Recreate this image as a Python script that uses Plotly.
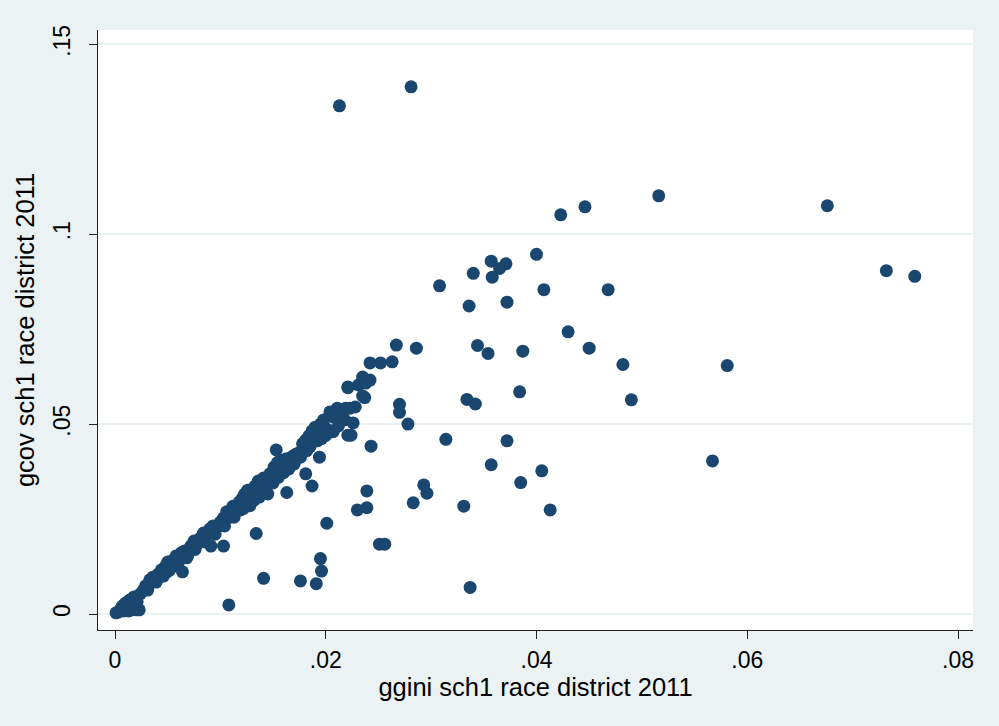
import plotly.graph_objects as go

# ggini sch1 race district 2011 (x) and gcov sch1 race district 2011 (y)
ggini = [
    0.0001, 0.0003, 0.0005, 0.0008, 0.0010, 0.0013, 0.0016, 0.0020, 0.0023,
    0.0007, 0.0010, 0.0014, 0.0018, 0.0021, 0.0024, 0.0027, 0.0029, 0.0031,
    0.0033, 0.0036, 0.0039, 0.0041, 0.0044, 0.0046, 0.0048, 0.0050, 0.0052,
    0.0055, 0.0058, 0.0060, 0.0063, 0.0064, 0.0066, 0.0069, 0.0072, 0.0075,
    0.0078, 0.0081, 0.0084, 0.0087, 0.0090, 0.0093, 0.0097, 0.0100, 0.0103,
    0.0106, 0.0109, 0.0112, 0.0115, 0.0118, 0.0121, 0.0123, 0.0126, 0.0130,
    0.0133, 0.0136, 0.0139, 0.0141, 0.0144, 0.0147, 0.0151, 0.0154, 0.0157,
    0.0159, 0.0162, 0.0166, 0.0169, 0.0172, 0.0176, 0.0178, 0.0181, 0.0184,
    0.0187, 0.0190, 0.0193, 0.0195, 0.0198, 0.0201, 0.0204, 0.0207, 0.0211,
    0.0214, 0.0216, 0.0219, 0.0223, 0.0221, 0.0231, 0.0235, 0.0238, 0.0242,
    0.0235, 0.0242, 0.0252, 0.0263, 0.0267, 0.0286,
    0.0119, 0.0145, 0.0176, 0.0192, 0.0207, 0.0218, 0.0226, 0.0228,
    0.0040, 0.0050, 0.0058, 0.0068, 0.0076, 0.0085, 0.0095, 0.0104, 0.0113,
    0.0122, 0.0132, 0.0140, 0.0150, 0.0160, 0.0170, 0.0182, 0.0200, 0.0212,
    0.0128, 0.0137, 0.0155, 0.0165, 0.0185, 0.0196,
    0.0091, 0.0103, 0.0108, 0.0134, 0.0141, 0.0153, 0.0163, 0.0176, 0.0181,
    0.0187, 0.0194, 0.0191, 0.0195, 0.0196, 0.0201, 0.0197, 0.0207, 0.0221,
    0.0224, 0.0221, 0.0230, 0.0239, 0.0239, 0.0243, 0.0237, 0.0251, 0.0256,
    0.0270, 0.0270, 0.0278, 0.0283, 0.0293, 0.0296, 0.0314, 0.0308, 0.0331,
    0.0334, 0.0342, 0.0336, 0.0337, 0.0340, 0.0344, 0.0354, 0.0357, 0.0357,
    0.0358, 0.0365, 0.0371, 0.0372, 0.0372, 0.0384, 0.0385, 0.0387, 0.0400,
    0.0405, 0.0407, 0.0413, 0.0423, 0.0430, 0.0446, 0.0450, 0.0468, 0.0482,
    0.0490, 0.0516, 0.0567, 0.0581, 0.0676, 0.0732, 0.0759, 0.0213, 0.0281,
]
gcov = [
    0.0003, 0.0005, 0.0011, 0.0008, 0.0013, 0.0008, 0.0011, 0.0011, 0.0011,
    0.0021, 0.0029, 0.0037, 0.0045, 0.0032, 0.0053, 0.0063, 0.0074, 0.0063,
    0.0090, 0.0097, 0.0084, 0.0105, 0.0116, 0.0100, 0.0126, 0.0137, 0.0116,
    0.0142, 0.0153, 0.0134, 0.0161, 0.0111, 0.0166, 0.0153, 0.0179, 0.0192,
    0.0184, 0.0200, 0.0213, 0.0208, 0.0224, 0.0232, 0.0229, 0.0242, 0.0253,
    0.0269, 0.0255, 0.0284, 0.0271, 0.0295, 0.0305, 0.0316, 0.0326, 0.0311,
    0.0337, 0.0350, 0.0329, 0.0358, 0.0345, 0.0369, 0.0387, 0.0398, 0.0405,
    0.0403, 0.0408, 0.0411, 0.0416, 0.0421, 0.0427, 0.0448, 0.0458, 0.0469,
    0.0482, 0.0492, 0.0466, 0.0500, 0.0511, 0.0487, 0.0532, 0.0519, 0.0542,
    0.0511, 0.0532, 0.0542, 0.0542, 0.0598, 0.0603, 0.0624, 0.0608, 0.0616,
    0.0574, 0.0661, 0.0661, 0.0664, 0.0708, 0.0700,
    0.0274, 0.0316, 0.0413, 0.0456, 0.0482, 0.0511, 0.0503, 0.0545,
    0.0090, 0.0112, 0.0128, 0.0148, 0.0170, 0.0190, 0.0210, 0.0232, 0.0255,
    0.0278, 0.0300, 0.0320, 0.0345, 0.0372, 0.0395, 0.0430, 0.0470, 0.0495,
    0.0285, 0.0308, 0.0360, 0.0382, 0.0440, 0.0462,
    0.0179, 0.0179, 0.0024, 0.0212, 0.0094, 0.0432, 0.0320, 0.0087, 0.0369,
    0.0337, 0.0413, 0.0080, 0.0146, 0.0113, 0.0239, 0.0467, 0.0480, 0.0471,
    0.0471, 0.0596, 0.0274, 0.0280, 0.0324, 0.0442, 0.0570, 0.0184, 0.0184,
    0.0552, 0.0531, 0.0500, 0.0293, 0.0340, 0.0318, 0.0460, 0.0864, 0.0284,
    0.0565, 0.0553, 0.0811, 0.0070, 0.0897, 0.0707, 0.0686, 0.0393, 0.0929,
    0.0887, 0.0910, 0.0922, 0.0821, 0.0456, 0.0585, 0.0346, 0.0692, 0.0947,
    0.0377, 0.0854, 0.0274, 0.1051, 0.0743, 0.1072, 0.0700, 0.0854, 0.0657,
    0.0564, 0.1101, 0.0403, 0.0654, 0.1075, 0.0904, 0.0889, 0.1338, 0.1388,
]

x_ticks = [0, 0.02, 0.04, 0.06, 0.08]
x_labels = ["0", ".02", ".04", ".06", ".08"]
y_ticks = [0, 0.05, 0.1, 0.15]
y_labels = ["0", ".05", ".1", ".15"]

BG = "#EAF2F3"
NAVY = "#1A476F"
FONT = "Liberation Sans, Arial, sans-serif"
TICK_SIZE = 23
TITLE_SIZE = 25.5

fig = go.Figure(go.Scatter(
    x=ggini, y=gcov, mode="markers",
    marker=dict(color=NAVY, size=13, line=dict(width=0)),
    showlegend=False,
))

fig.update_layout(
    width=999, height=726,
    paper_bgcolor=BG, plot_bgcolor="white",
    margin=dict(l=98, r=26, t=30, b=96),
    font=dict(family=FONT, size=TICK_SIZE, color="black"),
)
fig.update_xaxes(
    range=[-0.001613, 0.081423], tickvals=x_ticks, ticktext=x_labels,
    showgrid=False, zeroline=False,
    showline=True, linecolor="#222222", linewidth=1,
    ticks="outside", ticklen=8, tickcolor="#222222",
    tickfont=dict(size=TICK_SIZE), ticklabelstandoff=1,
    title=dict(text="ggini sch1 race district 2011", standoff=2,
               font=dict(size=TITLE_SIZE)),
)
fig.update_yaxes(
    range=[-0.00421, 0.15377], tickvals=y_ticks, ticktext=y_labels,
    showgrid=True, gridcolor=BG, gridwidth=2, zeroline=False,
    showline=True, linecolor="#222222", linewidth=1,
    ticks="outside", ticklen=8, tickcolor="#222222",
    tickangle=-90, tickfont=dict(size=TICK_SIZE), ticklabelstandoff=10,
    title=dict(text="gcov sch1 race district 2011", standoff=6,
               font=dict(size=TITLE_SIZE)),
)

fig.write_html("out.html", config={"displayModeBar": False},
               post_script="document.body.style.margin='0px';")
